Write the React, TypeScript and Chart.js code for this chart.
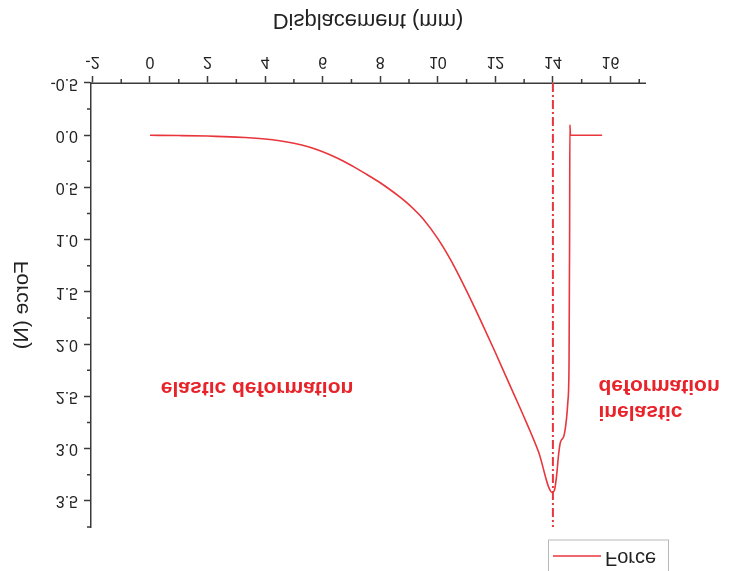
import React, { useEffect, useRef } from 'react';
import { Chart, registerables } from 'chart.js';

Chart.register(...registerables);

// ---- data (values in the chart's own units) ----
const displacementMm = [
  0, 1, 2, 3, 4, 4.5, 5, 5.5, 6, 6.5, 7, 7.5, 8, 8.5, 9, 9.5, 10, 10.5, 11, 11.5,
  12, 12.5, 13, 13.5, 13.98, 14.05, 14.12, 14.2, 14.26, 14.38, 14.47, 14.52, 14.56,
  14.58, 14.59, 14.61, 15.71,
];
const forceN = [
  0, 0.003, 0.008, 0.018, 0.036, 0.052, 0.076, 0.11, 0.158, 0.218, 0.29, 0.37, 0.455,
  0.553, 0.665, 0.805, 0.99, 1.22, 1.49, 1.78, 2.08, 2.39, 2.7, 3.03, 3.42, 3.4, 3.28,
  3.05, 2.94, 2.88, 2.72, 2.55, 2.2, 1.0, -0.1, 0.0, 0.0,
];
const seriesLabel = 'Force';

const xMajorTicks = [-2, 0, 2, 4, 6, 8, 10, 12, 14, 16];
const xMinorTicks = [-1, 1, 3, 5, 7, 9, 11, 13, 15, 17];
const yMajorTicks = [-0.5, 0, 0.5, 1, 1.5, 2, 2.5, 3, 3.5];
const yMinorTicks = [-0.25, 0.25, 0.75, 1.25, 1.75, 2.25, 2.75, 3.25, 3.75];

const markerX = [14, 14];
const markerY = [-0.5, 3.75];

const annotationTexts = ['elastic deformation', 'inelastic', 'deformation'];
const annotationX = [3.72, 15.58, 15.58];
const annotationY = [2.42, 2.65, 2.4];

const RED = '#e8363c';
const TEXT_RED = '#e8232a';
const AXIS = '#3a3a3a';
const FONT = "'Liberation Sans', Arial, Helvetica, sans-serif";

const extrasPlugin = {
  id: 'extras',
  afterDraw(chart: any) {
    const { ctx } = chart;
    const xs = chart.scales.x;
    const ys = chart.scales.y;
    const area = chart.chartArea;
    ctx.save();
    // minor ticks
    ctx.strokeStyle = AXIS;
    ctx.lineWidth = 1.5;
    ctx.beginPath();
    xMinorTicks.forEach((v) => {
      const px = xs.getPixelForValue(v);
      ctx.moveTo(px, area.bottom);
      ctx.lineTo(px, area.bottom + 4);
    });
    yMinorTicks.forEach((v) => {
      const py = ys.getPixelForValue(v);
      ctx.moveTo(area.left, py);
      ctx.lineTo(area.left - 4, py);
    });
    ctx.stroke();

    // annotations
    ctx.fillStyle = TEXT_RED;
    ctx.font = `bold 21px ${FONT}`;
    ctx.textBaseline = 'middle';
    annotationTexts.forEach((t, i) => {
      ctx.textAlign = i === 0 ? 'center' : 'left';
      ctx.fillText(t, xs.getPixelForValue(annotationX[i]), ys.getPixelForValue(annotationY[i]));
    });

    // legend box
    const lx = 548;
    const lw = 120;
    ctx.strokeStyle = '#b8b8b8';
    ctx.lineWidth = 1;
    ctx.strokeRect(lx + 0.5, -2, lw, 33);
    ctx.strokeStyle = RED;
    ctx.lineWidth = 1.6;
    ctx.beginPath();
    ctx.moveTo(lx + 5, 15);
    ctx.lineTo(lx + 53, 15);
    ctx.stroke();
    ctx.fillStyle = '#222';
    ctx.font = `20px ${FONT}`;
    ctx.textAlign = 'left';
    ctx.textBaseline = 'middle';
    ctx.fillText(seriesLabel, lx + 57, 13);
    ctx.restore();
  },
};

export default function App() {
  const ref = useRef<HTMLCanvasElement | null>(null);

  useEffect(() => {
    if (!ref.current) return;
    const points = displacementMm.map((x, i) => ({ x, y: forceN[i] }));
    const marker = markerX.map((x, i) => ({ x, y: markerY[i] }));
    const chart = new Chart(ref.current, {
      type: 'line',
      data: {
        datasets: [
          {
            label: seriesLabel,
            data: points,
            borderColor: RED,
            borderWidth: 1.6,
            pointRadius: 0,
            cubicInterpolationMode: 'monotone',
          },
          {
            label: 'marker',
            data: marker,
            borderColor: RED,
            borderWidth: 2,
            borderDash: [9, 3, 2, 3],
            pointRadius: 0,
          },
        ],
      } as any,
      options: {
        animation: false,
        responsive: false,
        devicePixelRatio: 1,
        layout: { padding: { top: 44, right: 86, left: 0, bottom: 0 } },
        plugins: { legend: { display: false }, tooltip: { enabled: false } },
        scales: {
          x: {
            type: 'linear',
            min: -2.05,
            max: 17.2,
            afterBuildTicks: (s: any) => {
              s.ticks = xMajorTicks.map((v) => ({ value: v }));
            },
            afterFit: (s: any) => {
              s.height = 83;
            },
            grid: {
              display: true,
              drawOnChartArea: false,
              drawTicks: true,
              tickLength: 7,
              tickColor: AXIS,
              tickWidth: 1.5,
            },
            border: { display: true, color: AXIS, width: 1.5 },
            ticks: {
              autoSkip: false,
              maxRotation: 0,
              padding: 5,
              color: '#222',
              font: { family: FONT, size: 16 },
              callback: (v: any) => String(v),
            },
            title: {
              display: true,
              text: 'Displacement (mm)',
              color: '#222',
              font: { family: FONT, size: 22 },
              padding: { top: 4, bottom: 7 },
            },
          },
          y: {
            type: 'linear',
            min: -0.5,
            max: 3.75,
            afterBuildTicks: (s: any) => {
              s.ticks = yMajorTicks.map((v) => ({ value: v }));
            },
            afterFit: (s: any) => {
              s.width = 91;
            },
            grid: {
              display: true,
              drawOnChartArea: false,
              drawTicks: true,
              tickLength: 7,
              tickColor: AXIS,
              tickWidth: 1.5,
            },
            border: { display: true, color: AXIS, width: 1.5 },
            ticks: {
              autoSkip: false,
              padding: 6,
              color: '#222',
              font: { family: FONT, size: 16 },
              callback: (v: any) => Number(v).toFixed(1),
            },
            title: {
              display: true,
              text: 'Force (N)',
              color: '#222',
              font: { family: FONT, size: 21 },
              padding: { top: 10, bottom: 4 },
            },
          },
        },
      } as any,
      plugins: [extrasPlugin],
    });
    return () => chart.destroy();
  }, []);

  return (
    <div style={{ position: 'absolute', left: 0, top: 0, width: 731, height: 571, background: '#fff' }}>
      <canvas
        ref={ref}
        width={731}
        height={571}
        style={{ display: 'block', transform: 'scaleY(-1)' }}
      />
    </div>
  );
}
